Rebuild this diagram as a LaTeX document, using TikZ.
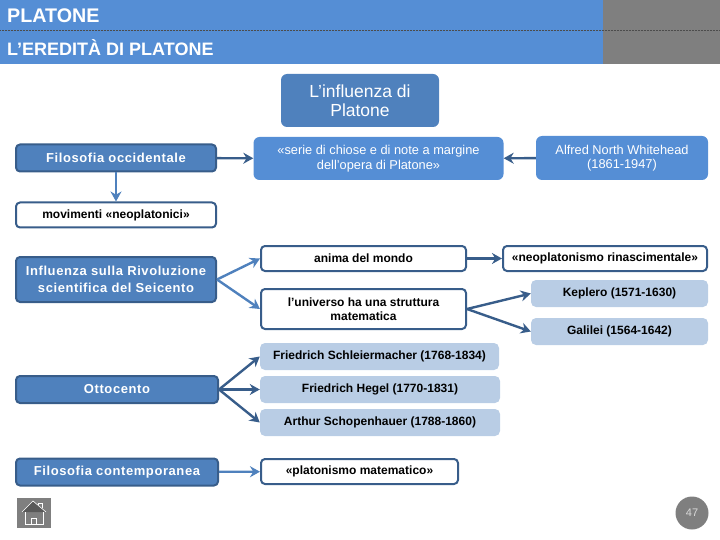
\documentclass[tikz,border=0pt]{standalone}
\usepackage{fontspec}
\setmainfont{Liberation Sans}
\usetikzlibrary{arrows.meta, positioning}
\definecolor{headblue}{RGB}{85, 142, 213}
\definecolor{midblue}{RGB}{79, 129, 189}
\definecolor{darkblue}{RGB}{56, 93, 138}
\definecolor{paleblue}{RGB}{185, 205, 229}
\definecolor{iconedge}{RGB}{127, 127, 127}
\definecolor{roofgray}{RGB}{89, 89, 89}
\newcommand{\boxfont}{\fontsize{12}{14}\bfseries\selectfont}

\begin{document}
\begin{tikzpicture}[x=1pt, y=-1pt,
  headbox/.style={fill=midblue, draw=darkblue, line width=2pt, rounded corners=4pt,
                  minimum height=27pt, text=white, align=center, inner sep=0pt,
                  font=\fontsize{13}{17}\bfseries\selectfont\addfontfeature{LetterSpace=4.5}},
  softbox/.style={fill=headblue, rounded corners=6pt, text=white, align=center, inner sep=0pt,
                  font=\fontsize{12.8}{14.5}\selectfont},
  linebox/.style={fill=white, draw=darkblue, line width=2pt, rounded corners=4pt,
                  text=black, align=center, inner sep=0pt, minimum height=25pt,
                  font=\boxfont},
  namebox/.style={fill=paleblue, rounded corners=5pt, text=black, align=center, inner sep=0pt,
                  minimum height=27pt, font=\boxfont},
  arrow/.style={-{Stealth[length=10pt, width=11pt]}, line width=2.4pt, color=darkblue},
  lightarrow/.style={-{Stealth[length=10pt, width=11pt]}, line width=2.4pt, color=midblue}
]
  \useasboundingbox (0,0) rectangle (720,540);

  % header
  \fill[headblue] (0,0) rectangle (603,64);
  \fill[iconedge] (603,0) rectangle (720,64);
  \draw[black!70, densely dotted, line width=0.5pt] (0,30) -- (720,30);
  \node[anchor=west, text=white, inner sep=0pt, font=\fontsize{19.7}{22}\bfseries\selectfont] (title) at (7,16) {PLATONE};
  \node[anchor=west, text=white, inner sep=0pt, font=\fontsize{18}{20}\bfseries\selectfont] (subtitle) at (7,48) {L’EREDITÀ DI PLATONE};

  % top rows
  \node[softbox, fill=midblue, minimum width=158pt, minimum height=53pt, font=\fontsize{17.5}{19}\selectfont] (influenza) at (360,100.5) {L’influenza di\\Platone};
  \node[headbox, minimum width=200pt] (occidentale) at (116,158) {Filosofia occidentale};
  \node[softbox, minimum width=250pt, minimum height=43pt] (chiose) at (378.5,158.5) {«serie di chiose e di note a margine\\dell’opera di Platone»};
  \node[softbox, minimum width=172pt, minimum height=44pt] (whitehead) at (622,158) {Alfred North Whitehead\\(1861-1947)};
  \node[linebox, minimum width=200pt, anchor=center] (movimenti) at (116,215) {movimenti «neoplatonici»};

  % Seicento
  \node[headbox, minimum width=200pt, minimum height=45pt] (seicento) at (116,279.5) {Influenza sulla Rivoluzione\\scientifica del Seicento};
  \node[linebox, minimum width=205pt] (anima) at (363.5,258.5) {anima del mondo};
  \node[linebox, minimum width=205pt, minimum height=40pt] (universo) at (363.5,309) {l’universo ha una struttura\\matematica};
  \node[linebox, minimum width=204pt] (rinascimentale) at (605,258.5) {«neoplatonismo rinascimentale»};
  \node[namebox, minimum width=177pt] (keplero) at (619.5,293.5) {Keplero (1571-1630)};
  \node[namebox, minimum width=177pt] (galilei) at (619.5,331.5) {Galilei (1564-1642)};

  % Ottocento
  \node[headbox, minimum width=202pt] (ottocento) at (117,389.5) {Ottocento};
  \node[namebox, minimum width=239pt] (schleiermacher) at (379.5,356.5) {Friedrich Schleiermacher (1768-1834)};
  \node[namebox, minimum width=240pt] (hegel) at (380,389.5) {Friedrich Hegel (1770-1831)};
  \node[namebox, minimum width=240pt] (schopenhauer) at (380,422.5) {Arthur Schopenhauer (1788-1860)};

  % contemporanea
  \node[headbox, minimum width=202pt] (contemporanea) at (117,472) {Filosofia contemporanea};
  \node[linebox, minimum width=197pt] (platonismo) at (359.5,471.5) {«platonismo matematico»};

  \draw[arrow] (occidentale) -- (chiose);
  \draw[arrow] (whitehead) -- (chiose);
  \draw[lightarrow] (occidentale) -- (movimenti);
  \draw[lightarrow] (seicento.east) -- (anima.west);
  \draw[lightarrow] (seicento.east) -- (universo.west);
  \draw[arrow] (anima) -- (rinascimentale);
  \draw[arrow] (universo.east) -- (keplero.west);
  \draw[arrow] (universo.east) -- (galilei.west);
  \draw[arrow] (ottocento.east) -- (schleiermacher.west);
  \draw[arrow] (ottocento.east) -- (hegel.west);
  \draw[arrow] (ottocento.east) -- (schopenhauer.west);
  \draw[lightarrow] (contemporanea) -- (platonismo);

  % home icon
  \fill[iconedge] (17,498) rectangle (51,528);
  \fill[roofgray] (33,501) -- (46,512) -- (22,512) -- cycle;
  \draw[white, line width=0.6pt] (38,505) -- (38,503) -- (42,503) -- (42,508);
  \draw[white, line width=0.6pt] (22,512) -- (33,501) -- (46,512);
  \draw[white, line width=0.6pt] (25,512) -- (25,524) -- (43,524) -- (43,512);
  \draw[white, line width=0.6pt] (31,524) -- (31,518) -- (36,518) -- (36,524);

  % page number
  \node[circle, fill=iconedge, minimum size=33pt, inner sep=0pt, text=black!15, font=\fontsize{11}{13}\selectfont] (pagenum) at (692,513) {47};
\end{tikzpicture}
\end{document}
